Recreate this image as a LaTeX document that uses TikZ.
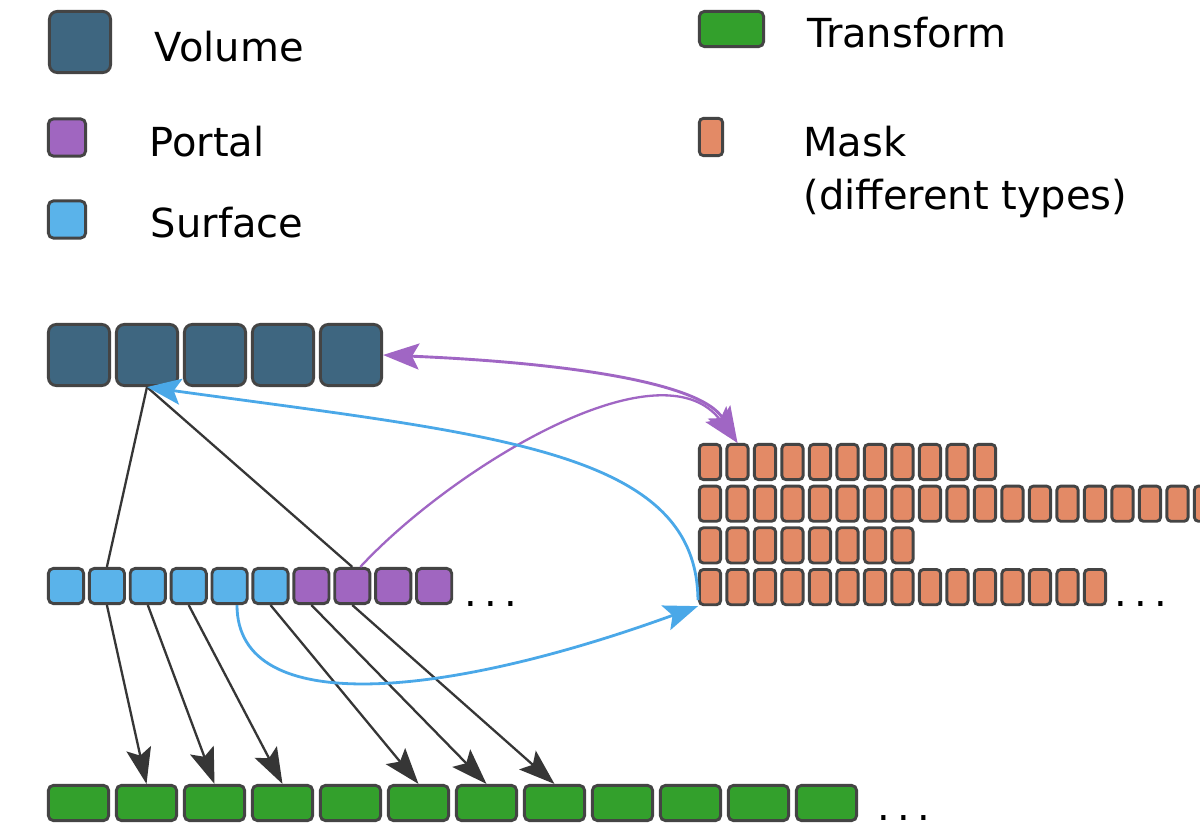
\documentclass[tikz,border=0pt]{standalone}
\usepackage{fontspec}
\setmainfont{DejaVu Sans}
\usetikzlibrary{arrows.meta}
\definecolor{volc}{HTML}{3E6680}
\definecolor{portc}{HTML}{A066C0}
\definecolor{surfc}{HTML}{5AB3EA}
\definecolor{trc}{HTML}{33A02C}
\definecolor{maskc}{HTML}{E38A66}
\definecolor{boxline}{HTML}{444444}
\definecolor{connc}{HTML}{363636}
\definecolor{bluearr}{HTML}{4AA8E8}
\definecolor{purparr}{HTML}{A066C4}
\newcommand{\lblfont}{\fontsize{20}{24}\selectfont}
\tikzset{
  box/.style={draw=boxline, line width=1.45pt, inner sep=0pt, rectangle},
  volbox/.style={box, fill=volc, minimum width=30.6pt, minimum height=30.6pt, rounded corners=4pt},
  surfbox/.style={box, fill=surfc, minimum width=17.6pt, minimum height=17.6pt, rounded corners=2.5pt},
  portbox/.style={surfbox, fill=portc},
  trbox/.style={box, fill=trc, minimum width=30.1pt, minimum height=17.6pt, rounded corners=2.5pt},
  maskbox/.style={box, fill=maskc, minimum width=10.6pt, minimum height=17.6pt, rounded corners=2pt},
  lbl/.style={anchor=base west, inner sep=0pt, font=\lblfont},
  conn/.style={draw=connc, line width=1.15pt},
  connarrow/.style={conn, -{Stealth[length=18pt,width=12.5pt,inset=3.5pt]}},
  bluecurve/.style={draw=bluearr, line width=1.4pt, -{Stealth[length=17pt,width=13pt,inset=3.5pt]}},
  purpcurve/.style={draw=purparr, line width=1.45pt},
  purptip/.tip={Stealth[length=18pt,width=13pt,inset=3.5pt]}
}
\begin{document}
\begin{tikzpicture}[x=0.5pt,y=-0.5pt]
\useasboundingbox (0,0) rectangle (1200,828);
\fill[white] (0,0) rectangle (1200,828);

% legend
\node[volbox] (legvol) at (80,42) {};
\node[portbox, minimum width=18.6pt, minimum height=18.6pt] (legport) at (67,137.5) {};
\node[surfbox, minimum width=18.6pt, minimum height=18.6pt] (legsurf) at (67,219.5) {};
\node[trbox, minimum width=32.1pt] (legtr) at (731.5,29) {};
\node[maskbox, minimum width=11.6pt, minimum height=18.6pt] (legmask) at (711,137) {};
\node[lbl] (tvol) at (154.5,62) {Volume};
\node[lbl] (tport) at (149,157) {Portal};
\node[lbl] (tsurf) at (150.5,238) {Surface};
\node[lbl] (ttr) at (807,48) {Transform};
\node[lbl] (tmask) at (803,157) {Mask};
\node[lbl] (tmask2) at (803,210) {(different types)};

% volumes
\foreach \i in {1,...,5}
  \node[volbox] (vol\i) at ({79+68*(\i-1)},355) {};

% surfaces and portals
\foreach \i in {1,...,6}
  \node[surfbox] (s\i) at ({66+40.9*(\i-1)},586) {};
\foreach \i in {7,...,10}
  \node[portbox] (s\i) at ({66+40.9*(\i-1)},586) {};
\node[lbl] (sdots) at (464,606) {.\kern3.6pt.\kern3.6pt.};

% transforms
\foreach \i in {1,...,12}
  \node[trbox] (t\i) at ({78.5+68*(\i-1)},803) {};
\node[lbl] (tdots) at (877,820) {.\kern3.6pt.\kern3.6pt.};

% masks
\foreach \r/\n in {1/11,2/19,3/8,4/15}
  \foreach \c in {1,...,\n}
    \node[maskbox] (m\r-\c) at ({710+27.5*(\c-1)},{462+41.7*(\r-1)}) {};
\node[lbl] (mdots) at (1114.5,606) {.\kern3.6pt.\kern3.6pt.};

% connectors
\draw[conn] (vol2.south) -- (s2.north);
\draw[conn] (vol2.south) -- (s8.north);
\foreach \i in {2,3,4,6,7,8}
  \draw[connarrow] (s\i.south) -- (t\i.north);

\draw[purpcurve, purptip-purptip] (vol5.east) .. controls (550,362) and (700,380) .. (m1-2.north);
\draw[purpcurve, line width=1.15pt, -purptip] ([xshift=4pt]s8.north) .. controls (450,470) and (660,340) .. (m1-2.north);

\draw[bluecurve] ([yshift=3pt]m4-1.south west) .. controls (697,450) and (495,435) .. (vol2.south);
\draw[bluecurve] ([xshift=3.7pt]s5.south) .. controls (237,720) and (448,697) .. (m4-1.south west);
\end{tikzpicture}
\end{document}
